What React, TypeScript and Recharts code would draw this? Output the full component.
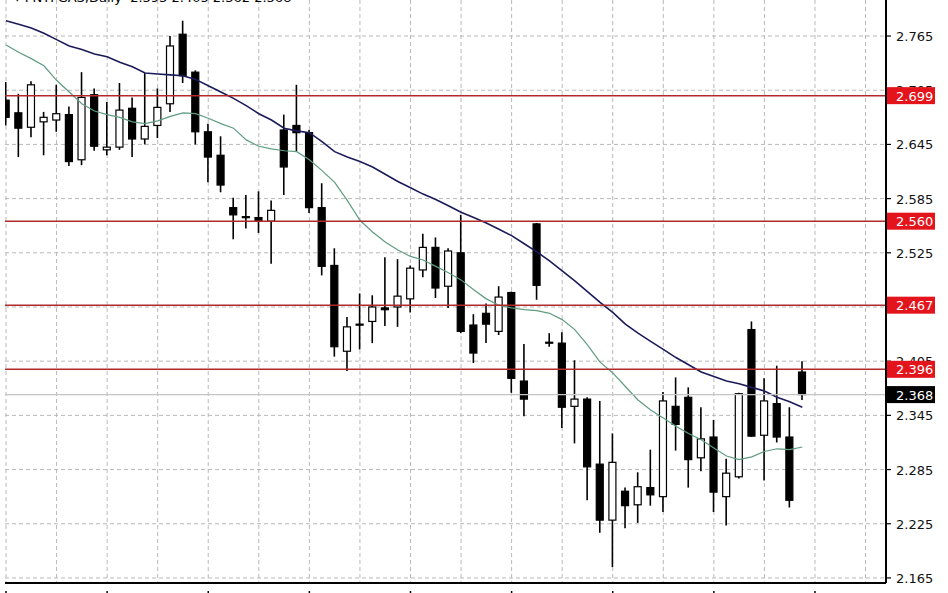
import React from "react";
import {
  ComposedChart,
  Bar,
  Line,
  XAxis,
  YAxis,
  CartesianGrid,
  ReferenceLine,
} from "recharts";

const opens = [
  2.694, 2.68, 2.664, 2.67, 2.672, 2.678, 2.628, 2.7, 2.639, 2.642,
  2.685, 2.651, 2.666, 2.69, 2.767, 2.725, 2.659, 2.633, 2.575, 2.565,
  2.564, 2.56, 2.661, 2.666, 2.658, 2.575, 2.511, 2.416, 2.446, 2.449,
  2.464, 2.465, 2.474, 2.506, 2.531, 2.488, 2.525, 2.445, 2.458, 2.438,
  2.481, 2.383, 2.557, 2.426, 2.425, 2.355, 2.363, 2.291, 2.229, 2.261,
  2.246, 2.265, 2.255, 2.355, 2.365, 2.298, 2.321, 2.255, 2.277, 2.44,
  2.323, 2.358, 2.321, 2.393,
];
const highs = [
  2.714, 2.701, 2.715, 2.681, 2.711, 2.687, 2.725, 2.707, 2.692, 2.713,
  2.697, 2.724, 2.707, 2.765, 2.782, 2.727, 2.668, 2.654, 2.586, 2.589,
  2.593, 2.583, 2.678, 2.711, 2.661, 2.602, 2.53, 2.454, 2.48, 2.478,
  2.52, 2.518, 2.511, 2.546, 2.542, 2.53, 2.567, 2.457, 2.469, 2.488,
  2.482, 2.424, 2.558, 2.436, 2.437, 2.406, 2.365, 2.361, 2.325, 2.265,
  2.282, 2.307, 2.371, 2.387, 2.376, 2.354, 2.34, 2.297, 2.37, 2.449,
  2.386, 2.4, 2.354, 2.405,
];
const lows = [
  2.666, 2.631, 2.653, 2.633, 2.659, 2.621, 2.622, 2.638, 2.633, 2.639,
  2.631, 2.645, 2.652, 2.681, 2.713, 2.645, 2.603, 2.592, 2.54, 2.552,
  2.547, 2.513, 2.589, 2.637, 2.569, 2.5, 2.41, 2.394, 2.418, 2.425,
  2.444, 2.443, 2.459, 2.498, 2.475, 2.464, 2.436, 2.403, 2.425, 2.434,
  2.37, 2.344, 2.473, 2.421, 2.331, 2.314, 2.251, 2.215, 2.177, 2.22,
  2.226, 2.245, 2.238, 2.306, 2.265, 2.283, 2.238, 2.223, 2.275, 2.321,
  2.273, 2.315, 2.243, 2.362,
];
const closes = [
  2.675, 2.663, 2.711, 2.675, 2.679, 2.626, 2.697, 2.643, 2.642, 2.683,
  2.651, 2.665, 2.686, 2.754, 2.721, 2.659, 2.631, 2.6, 2.567, 2.564,
  2.561, 2.572, 2.62, 2.658, 2.575, 2.51, 2.421, 2.443, 2.446, 2.465,
  2.462, 2.477, 2.508, 2.531, 2.486, 2.527, 2.438, 2.414, 2.446, 2.476,
  2.386, 2.363, 2.489, 2.426, 2.354, 2.363, 2.288, 2.229, 2.293, 2.245,
  2.266, 2.257, 2.361, 2.335, 2.296, 2.319, 2.26, 2.281, 2.369, 2.322,
  2.361, 2.321, 2.251, 2.368,
];
const maSlow = [
  2.782, 2.778, 2.774, 2.768, 2.761, 2.754, 2.75, 2.745, 2.742, 2.736,
  2.731, 2.724, 2.723, 2.722, 2.721, 2.717, 2.71, 2.703, 2.696, 2.688,
  2.679, 2.672, 2.663, 2.66, 2.658, 2.648, 2.637, 2.631, 2.626, 2.62,
  2.612, 2.604, 2.597, 2.59, 2.584, 2.577, 2.57, 2.564, 2.558, 2.551,
  2.544, 2.535, 2.526, 2.516, 2.505, 2.494, 2.482, 2.47, 2.459, 2.446,
  2.436, 2.427, 2.418, 2.409, 2.401, 2.393, 2.388, 2.383, 2.38, 2.376,
  2.372, 2.365, 2.36, 2.354,
];
const maFast = [
  2.755, 2.747, 2.74, 2.732, 2.716, 2.703, 2.69, 2.682, 2.678, 2.675,
  2.67, 2.668, 2.671, 2.676, 2.68, 2.679, 2.674, 2.668, 2.663, 2.65,
  2.643, 2.64, 2.638, 2.637, 2.628, 2.616, 2.603, 2.583, 2.561, 2.548,
  2.537, 2.528, 2.521, 2.517, 2.51, 2.503, 2.495, 2.484, 2.474, 2.467,
  2.464, 2.462, 2.461, 2.458, 2.451, 2.44, 2.423, 2.404, 2.392, 2.377,
  2.362, 2.351, 2.342, 2.333, 2.325, 2.318, 2.309, 2.3, 2.296, 2.299,
  2.305, 2.308, 2.307, 2.31,
];
const yTicks = [2.165, 2.225, 2.285, 2.345, 2.405, 2.465, 2.525, 2.585, 2.645, 2.705, 2.765];
const xTicks = [0, 4, 8, 12, 16, 20, 24, 28, 32, 36, 40, 44, 48, 52, 56, 60, 64, 68];
const redLevels = [2.699, 2.56, 2.467, 2.396];
const lastPrice = 2.368;
const titleText = "PNTFGAS,Daily  2.393 2.405 2.362 2.368";

const data = opens.map((o, i) => ({
  i,
  open: o,
  high: highs[i],
  low: lows[i],
  close: closes[i],
  range: [lows[i], highs[i]],
  maSlow: maSlow[i],
  maFast: maFast[i],
}));

const FONT = "Tahoma, 'DejaVu Sans', sans-serif";

const Candle = (props: any) => {
  let { x, y, width, height, payload } = props;
  if (height < 0) {
    y = y + height;
    height = -height;
  }
  const { open, close, high, low } = payload;
  const cx = x + width / 2;
  const span = high - low || 1;
  const py = (v: number) => y + ((high - v) / span) * height;
  const top = py(Math.max(open, close));
  const bot = py(Math.min(open, close));
  const up = close > open;
  const bh = Math.max(bot - top, 1);
  return (
    <g>
      <line x1={cx} x2={cx} y1={y} y2={y + height} stroke="#000" strokeWidth={1.6} />
      <rect x={cx - 3.5} y={top} width={7} height={bh} fill={up ? "#fff" : "#000"} stroke="#000" strokeWidth={1.2} />
    </g>
  );
};

const XTick = (props: any) => {
  const { x, y, payload } = props;
  if (payload.value % 8 !== 0) return null;
  return <line x1={x} x2={x} y1={y} y2={y + 6} stroke="#000" strokeWidth={1.5} />;
};

// plain price ticks first, then the boxed level labels so they sit on top
const axisTicks = [...yTicks, lastPrice, ...redLevels];

const YTick = (props: any) => {
  const { x, y, payload } = props;
  const v = payload.value;
  const isRed = redLevels.includes(v);
  const isLast = v === lastPrice;
  if (isRed || isLast) {
    return (
      <g>
        <rect x={x - 9} y={y - 8.5} width={48} height={17} fill={isRed ? "#e3141b" : "#000"} />
        <text x={x} y={y + 5} fontSize={13} fontFamily={FONT} fill="#fff">
          {v.toFixed(3)}
        </text>
      </g>
    );
  }
  return (
    <g>
      <line x1={x - 10} x2={x - 5} y1={y} y2={y} stroke="#000" strokeWidth={1.2} />
      <text x={x} y={y + 5} fontSize={13} fontFamily={FONT} fill="#111">
        {v.toFixed(3)}
      </text>
    </g>
  );
};

export default function App() {
  return (
    <div style={{ position: "absolute", left: 0, top: 0, width: 948, height: 593, background: "#fff", overflow: "hidden" }}>
      <ComposedChart
        width={948}
        height={593}
        data={data}
        margin={{ top: 0, right: 0, left: 5, bottom: 0 }}
      >
        <CartesianGrid
          stroke="#b9b9b9"
          strokeDasharray="4 3"
          strokeWidth={1}
          horizontalValues={yTicks}
          verticalValues={xTicks}
        />
        <XAxis
          dataKey="i"
          type="number"
          domain={[-0.08, 69.62]}
          allowDataOverflow
          ticks={xTicks}
          interval={0}
          height={10}
          tickLine={false}
          tick={<XTick />}
          axisLine={{ stroke: "#000", strokeWidth: 2 }}
        />
        <YAxis
          yAxisId="left"
          orientation="left"
          width={0}
          domain={[2.1594, 2.8049]}
          allowDataOverflow
          tick={false}
          tickLine={false}
          axisLine={{ stroke: "#000", strokeWidth: 2 }}
        />
        <YAxis
          orientation="right"
          width={62}
          domain={[2.1594, 2.8049]}
          allowDataOverflow
          ticks={axisTicks}
          interval={0}
          tickLine={false}
          tickSize={0}
          tick={<YTick />}
          tickMargin={10}
          axisLine={{ stroke: "#000", strokeWidth: 2 }}
        />
        <Bar dataKey="range" barSize={8} shape={<Candle />} isAnimationActive={false} />
        <Line dataKey="maFast" stroke="#5f9c80" strokeWidth={1.2} dot={false} isAnimationActive={false} />
        <Line dataKey="maSlow" stroke="#1b1b5a" strokeWidth={1.6} dot={false} isAnimationActive={false} />
        <ReferenceLine y={lastPrice} stroke="#c4c4c4" strokeWidth={1.2} />
        {redLevels.map((lv) => (
          <ReferenceLine key={lv} y={lv} stroke="#b02a2a" strokeWidth={1.5} />
        ))}
      </ComposedChart>
      <div
        style={{
          position: "absolute",
          left: 14,
          top: -9,
          fontFamily: FONT,
          fontSize: 13,
          lineHeight: "13px",
          whiteSpace: "pre",
          color: "#000",
        }}
      >
        {"▾ " + titleText}
      </div>
    </div>
  );
}
